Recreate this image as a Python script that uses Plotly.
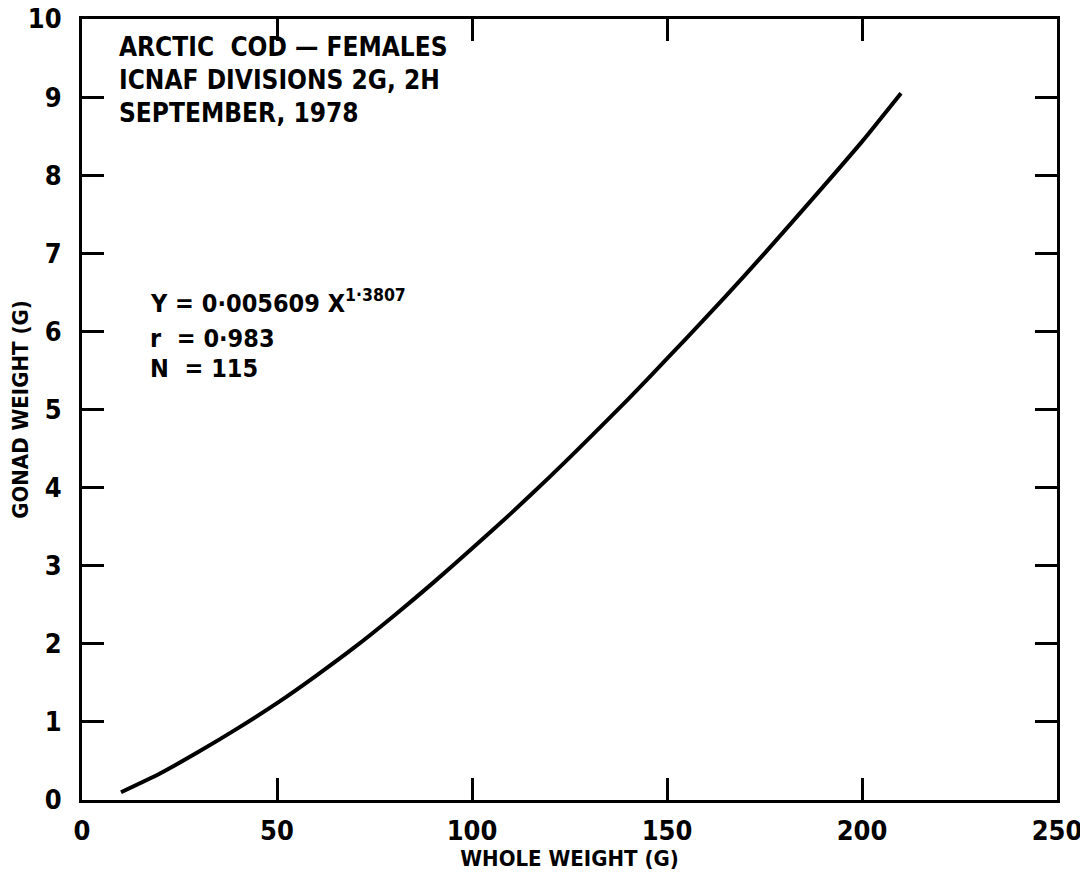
import plotly.graph_objects as go

# Data
whole_weight = [10, 20, 30, 40, 50, 60, 70, 80, 90, 100, 110, 120, 130, 140, 150, 160, 170, 180, 190, 200, 210]
gonad_weight = [0.10, 0.34, 0.62, 0.92, 1.24, 1.59, 1.96, 2.36, 2.78, 3.22, 3.67, 4.14, 4.63, 5.13, 5.65, 6.18, 6.72, 7.28, 7.85, 8.43, 9.05]

x_ticks = [0, 50, 100, 150, 200, 250]
y_ticks = [0, 1, 2, 3, 4, 5, 6, 7, 8, 9, 10]

title_lines = ["ARCTIC  COD \u2014 FEMALES", "ICNAF DIVISIONS 2G, 2H", "SEPTEMBER, 1978"]
stat_lines = ["Y = 0\u00b7005609 X<sup>1\u00b73807</sup>", "r  = 0\u00b7983", "N  = 115"]

FONT = "Liberation Sans Narrow, DejaVu Sans Condensed, Arial Narrow, DejaVu Sans, sans-serif"

fig = go.Figure()
fig.add_trace(go.Scatter(x=whole_weight, y=gonad_weight, mode="lines",
                         line=dict(color="black", width=4, shape="spline", smoothing=0.6),
                         showlegend=False))

axis_common = dict(showline=True, linecolor="black", linewidth=3, mirror="ticks",
                   ticks="inside", ticklen=22, tickwidth=2.5, tickcolor="black",
                   showgrid=False, zeroline=False, automargin=False,
                   ticklabeloverflow="allow",
                   tickfont=dict(family=FONT, size=27, color="black", weight="bold"))

fig.update_xaxes(range=[0, 250], tickvals=x_ticks, ticktext=[str(v) for v in x_ticks],
                 ticklabelstandoff=5,
                 title=dict(text="WHOLE WEIGHT (G)", font=dict(family=FONT, size=22, color="black", weight="bold"), standoff=2),
                 **axis_common)
fig.update_yaxes(range=[0, 10], tickvals=y_ticks, ticktext=[str(v) for v in y_ticks],
                 ticklabelstandoff=12,
                 title=dict(text="GONAD WEIGHT (G)", font=dict(family=FONT, size=22, color="black", weight="bold"), standoff=4),
                 **axis_common)

title_y = [9.64, 9.22, 8.80]
for t, yy in zip(title_lines, title_y):
    fig.add_annotation(x=9.0, y=yy, xref="x", yref="y", text=t, showarrow=False,
                       xanchor="left", yanchor="middle",
                       font=dict(family=FONT, size=26, color="black", weight="bold"))

stat_y = [6.38, 5.91, 5.53]
for t, yy in zip(stat_lines, stat_y):
    fig.add_annotation(x=17.0, y=yy, xref="x", yref="y", text=t, showarrow=False,
                       xanchor="left", yanchor="middle",
                       font=dict(family=FONT, size=25, color="black", weight="bold"))

fig.update_layout(width=1088, height=884, plot_bgcolor="white", paper_bgcolor="white",
                  margin=dict(l=74, r=39, t=11, b=92), showlegend=False)

fig.write_html("out.html")
